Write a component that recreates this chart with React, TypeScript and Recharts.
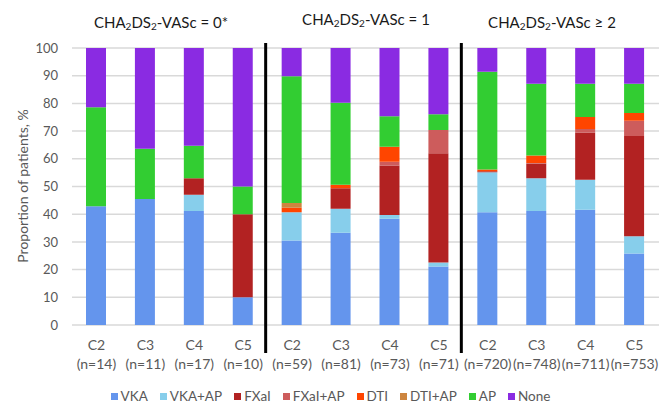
import React from 'react';
import { BarChart, Bar, XAxis, YAxis, CartesianGrid, ReferenceLine } from 'recharts';

const categories = ['C2', 'C3', 'C4', 'C5', 'C2', 'C3', 'C4', 'C5', 'C2', 'C3', 'C4', 'C5'];
const sampleSizes = ['(n=14)', '(n=11)', '(n=17)', '(n=10)', '(n=59)', '(n=81)', '(n=73)', '(n=71)', '(n=720)', '(n=748)', '(n=711)', '(n=753)'];
const groupTitleSuffix = ['= 0*', '= 1', '\u2265 2'];
const yTicks = [0, 10, 20, 30, 40, 50, 60, 70, 80, 90, 100];

const vka = [42.86, 45.45, 41.18, 10, 30.51, 33.33, 38.36, 21.13, 40.7, 41.2, 41.6, 25.8];
const vkaAp = [0, 0, 5.88, 0, 10.17, 8.64, 1.37, 1.41, 14.4, 11.8, 10.8, 6.2];
const fxai = [0, 0, 5.88, 30, 0, 7.41, 17.81, 39.44, 0.4, 5.2, 17.1, 36.2];
const fxaiAp = [0, 0, 0, 0, 0, 0, 1.37, 8.45, 0, 0.3, 1.3, 5.5];
const dti = [0, 0, 0, 0, 1.69, 1.23, 5.48, 0, 0.6, 2.7, 4.3, 2.8];
const dtiAp = [0, 0, 0, 0, 1.69, 0, 0, 0, 0, 0, 0, 0];
const ap = [35.71, 18.18, 11.76, 10, 45.76, 29.63, 10.96, 5.63, 35.3, 25.9, 12.0, 10.6];
const none = [21.43, 36.36, 35.29, 50, 10.17, 19.75, 24.65, 23.94, 8.6, 12.9, 12.9, 12.9];

const seriesNames = ['VKA', 'VKA+AP', 'FXaI', 'FXaI+AP', 'DTI', 'DTI+AP', 'AP', 'None'];
const seriesValues = [vka, vkaAp, fxai, fxaiAp, dti, dtiAp, ap, none];
const seriesColors = ['#6495ED', '#87CEEB', '#B22222', '#CD5C5C', '#FF4500', '#CD853F', '#32CD32', '#8A2BE2'];

const FONT = "Lato, 'Open Sans', sans-serif";
const TEXT_GRAY = '#595959';

const rows = categories.map((c, i) => {
  const row: Record<string, any> = { key: `${c} ${sampleSizes[i]}` };
  seriesNames.forEach((s, si) => {
    row[s] = seriesValues[si][i];
  });
  return row;
});

const XTick = (props: any) => {
  const { x, y, payload } = props;
  const [c, n] = String(payload.value).split(' ');
  return (
    <g>
      <text x={x} y={y + 17} textAnchor="middle" fill={TEXT_GRAY} fontSize={14} fontFamily={FONT}>{c}</text>
      <text x={x} y={y + 36} textAnchor="middle" fill={TEXT_GRAY} fontSize={14} fontFamily={FONT}>{n}</text>
    </g>
  );
};

const SepLine = (props: any) => {
  const top = Math.min(props.y1, props.y2);
  const bottom = Math.max(props.y1, props.y2);
  return <line x1={props.x1 - 2} x2={props.x2 - 2} y1={top - 5} y2={bottom + 28} stroke="#000" strokeWidth={3} />;
};

const Title = ({ cx, y, suffix }: { cx: number; y: number; suffix: string }) => (
  <text x={cx} y={y} textAnchor="middle" fontSize={15} fontFamily={FONT} fill="#1a1a1a">
    CHA<tspan fontSize={10} dy={2}>2</tspan>
    <tspan dy={-2}>DS</tspan>
    <tspan fontSize={10} dy={2}>2</tspan>
    <tspan dy={-2}>{`-VASc ${suffix}`}</tspan>
  </text>
);

export default function App() {
  return (
    <div style={{ position: 'absolute', left: 0, top: 0, width: 669, height: 408, background: '#fff', overflow: 'hidden' }}>
      <BarChart width={669} height={408} data={rows} margin={{ top: 48, right: 10, left: 12, bottom: 43 }}>
        <CartesianGrid vertical={false} stroke="#d9d9d9" strokeWidth={1.5} />
        <XAxis dataKey="key" height={40} tickLine={false} axisLine={false} interval={0} tick={<XTick />} />
        <YAxis
          width={60}
          domain={[0, 100]}
          ticks={yTicks}
          allowDataOverflow
          interval={0}
          tickLine={false}
          axisLine={false}
          tickMargin={8}
          tick={{ fill: TEXT_GRAY, fontSize: 13, fontFamily: FONT }}
        />
        {seriesNames.map((s, i) => (
          <Bar key={s} dataKey={s} stackId="a" fill={seriesColors[i]} barSize={20} isAnimationActive={false} />
        ))}
        <ReferenceLine x={rows[3].key} position="end" shape={<SepLine />} />
        <ReferenceLine x={rows[7].key} position="end" shape={<SepLine />} />
      </BarChart>
      <svg width={669} height={408} style={{ position: 'absolute', left: 0, top: 0, pointerEvents: 'none' }}>
        <Title cx={161} y={28} suffix={groupTitleSuffix[0]} />
        <Title cx={366} y={25} suffix={groupTitleSuffix[1]} />
        <Title cx={552} y={28} suffix={groupTitleSuffix[2]} />
        <text
          x={22.5}
          y={186}
          transform="rotate(-90 22.5 186)"
          textAnchor="middle"
          dominantBaseline="central"
          fontSize={14}
          fontFamily={FONT}
          fill={TEXT_GRAY}
        >
          Proportion of patients, %
        </text>
      </svg>
      <div
        style={{
          position: 'absolute',
          top: 389,
          left: 0,
          width: 669,
          height: 15,
          display: 'flex',
          justifyContent: 'center',
          alignItems: 'center',
          fontFamily: FONT,
          fontSize: 13.5,
          color: TEXT_GRAY,
          lineHeight: '15px',
          paddingRight: 8,
          boxSizing: 'border-box',
        }}
      >
        {seriesNames.map((s, i) => (
          <div key={s} style={{ display: 'flex', alignItems: 'center', marginRight: i < seriesNames.length - 1 ? 12 : 0 }}>
            <span style={{ width: 7, height: 7, background: seriesColors[i], display: 'inline-block', marginRight: 3 }} />
            <span>{s}</span>
          </div>
        ))}
      </div>
    </div>
  );
}
